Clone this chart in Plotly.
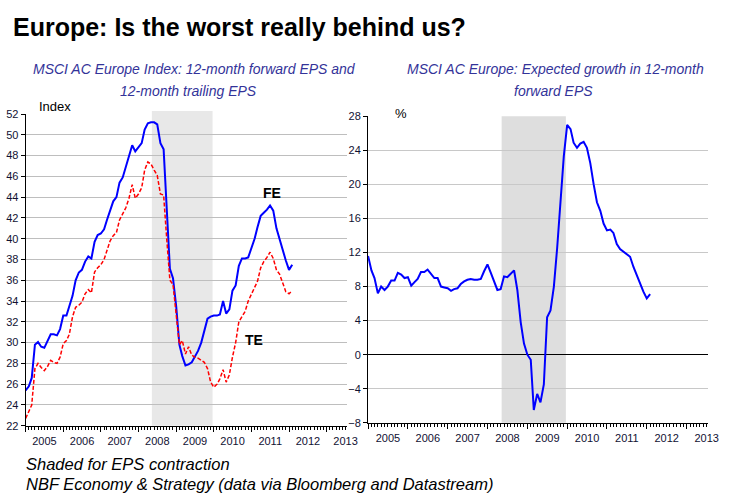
import plotly.graph_objects as go
import pandas as pd

# ---- data (monthly, Jan 2005 - Feb 2012) ----
months = pd.date_range("2005-01-01", periods=86, freq="MS")

fe_eps = [25.4, 25.8, 26.6, 29.8, 30.05, 29.6, 29.5, 30.2, 30.8, 30.8,
          30.7, 31.3, 32.6, 32.6, 33.4, 34.5, 36.0, 36.75, 37.0, 37.8,
          38.3, 38.1, 39.7, 40.35, 40.5, 40.9, 41.8, 42.7, 43.6, 44.0,
          45.4, 45.9, 47.0, 47.8, 49.0, 48.4, 48.8, 49.2, 50.5, 51.1,
          51.2, 51.2, 51.0, 49.2, 48.6, 43.5, 37.1, 36.2, 33.5, 29.8,
          28.7, 27.8, 27.9, 28.1, 28.7, 29.2, 30.0, 31.2, 32.3, 32.5,
          32.6, 32.6, 32.7, 34.0, 32.8, 33.2, 35.0, 35.5, 37.4, 38.1,
          38.1, 38.2, 39.1, 40.0, 41.1, 42.2, 42.5, 42.8, 43.2, 42.7,
          41.0, 39.9, 39.0, 37.9, 37.0, 37.5]

te_eps = [22.7, 23.3, 24.0, 27.5, 28.0, 27.6, 27.3, 27.7, 28.3, 28.1,
          28.0, 28.6, 29.9, 30.2, 30.8, 32.5, 33.4, 33.6, 33.9, 34.7,
          35.1, 34.8, 36.8, 37.2, 37.5, 38.0, 38.8, 39.8, 40.3, 40.6,
          41.8, 42.4, 43.0, 43.9, 45.2, 43.9, 44.3, 44.9, 46.6, 47.4,
          47.2, 46.6, 46.1, 44.3, 44.2, 40.0, 36.0, 35.6, 33.0, 29.8,
          30.2, 28.9, 29.6, 28.8, 28.6, 28.5, 28.3, 28.1, 27.5, 26.2,
          25.7, 26.0, 26.5, 27.4, 26.2, 26.9, 28.6, 30.0, 32.0, 32.5,
          33.0, 34.0, 34.6, 35.2, 35.9, 37.2, 37.8, 38.2, 38.7, 38.1,
          37.0, 36.6, 35.7, 34.9, 34.7, 35.0]

growth = [11.6, 9.9, 9.0, 7.2, 8.0, 7.6, 8.0, 8.7, 8.7, 9.6,
          9.4, 9.0, 9.1, 8.1, 8.5, 8.9, 9.7, 9.7, 10.0, 9.5,
          9.0, 9.0, 8.0, 7.9, 7.8, 7.5, 7.7, 7.8, 8.3, 8.6,
          8.8, 8.9, 8.8, 8.8, 8.9, 9.8, 10.6, 9.6, 8.6, 7.6,
          7.7, 9.2, 9.1, 9.5, 9.9, 7.6, 3.8, 1.3, 0.0, -0.6,
          -6.5, -4.6, -5.6, -3.5, 4.4, 5.2, 8.0, 12.5, 17.5, 23.3,
          27.0, 26.5, 24.9, 24.3, 24.8, 25.0, 24.3, 22.5, 20.0, 17.9,
          16.9, 15.4, 14.6, 14.7, 14.3, 13.0, 12.4, 12.1, 11.8, 11.5,
          10.3, 9.3, 8.2, 7.4, 6.6, 7.1]

shade_start = "2008-05-10"
shade_end = "2009-12-20"
x_range = ["2005-01-01", "2013-07-20"]

W, H = 755, 502
def px(x):
    return x / W
def py(y):
    return 1 - y / H

TICKFONT = dict(family="Liberation Sans, Arial, sans-serif", size=11, color="#111133")

fig = go.Figure()
fig.add_trace(go.Scatter(x=months, y=fe_eps, mode="lines", name="FE",
                         line=dict(color="#0000FF", width=2), xaxis="x", yaxis="y",
                         showlegend=False))
fig.add_trace(go.Scatter(x=months, y=te_eps, mode="lines", name="TE",
                         line=dict(color="#FF0000", width=1.5, dash="4px,2px"),
                         xaxis="x", yaxis="y", showlegend=False))
fig.add_trace(go.Scatter(x=months, y=growth, mode="lines", name="Growth",
                         line=dict(color="#0000FF", width=2), xaxis="x2", yaxis="y2",
                         showlegend=False))

def xaxis_cfg(domain, anchor):
    return dict(domain=domain, anchor=anchor, type="date", range=x_range,
                tick0="2005-01-01", dtick="M12", ticklabelmode="period",
                tickformat="%Y", ticks="outside", ticklen=5, tickcolor="black",
                showline=True, linecolor="black", linewidth=1, showgrid=False,
                zeroline=False, tickfont=TICKFONT,
                minor=dict(ticks="outside", ticklen=3, dtick="M1", tick0="2005-01-01",
                           tickcolor="black", showgrid=False))

fig.update_layout(
    width=W, height=H, margin=dict(l=0, r=0, t=0, b=0),
    paper_bgcolor="white", plot_bgcolor="white",
    xaxis=xaxis_cfg([px(26), px(352)], "y"),
    yaxis=dict(domain=[py(430), py(110.7)], anchor="x", range=[22, 52], dtick=2,
               tick0=22, ticks="outside", ticklen=4, tickcolor="black",
               showline=True, linecolor="black", linewidth=1,
               showgrid=True, gridcolor="#BEBEBE", gridwidth=1, zeroline=False,
               tickfont=TICKFONT),
    xaxis2=xaxis_cfg([px(373), px(718)], "y2"),
    yaxis2=dict(domain=[py(427), py(113)], anchor="x2", range=[-8, 28], dtick=4,
                tick0=-8, ticks="outside", ticklen=4, tickcolor="black",
                showline=True, linecolor="black", linewidth=1,
                showgrid=True, gridcolor="#C8C8C8", gridwidth=1,
                zeroline=True, zerolinecolor="black", zerolinewidth=1.2,
                tickfont=TICKFONT),
)

fig.add_shape(type="rect", xref="x", yref="y domain", x0=shade_start, x1=shade_end,
              y0=0, y1=1.01, fillcolor="#E8E8E8", line=dict(width=0), layer="below")
fig.add_shape(type="rect", xref="x2", yref="y2 domain", x0=shade_start, x1=shade_end,
              y0=0, y1=1, fillcolor="#DEDEDE", line=dict(width=0), layer="below")

ann = []
ann.append(dict(text="<b>Europe: Is the worst really behind us?</b>", x=px(11), y=py(22),
                xanchor="left", yanchor="middle",
                font=dict(family="Liberation Sans, Arial, sans-serif", size=25, color="black")))
SUBFONT = dict(family="Liberation Sans, Arial, sans-serif", size=14, color="#333399")
ann.append(dict(text="<i>MSCI AC Europe Index: 12-month forward EPS and</i>",
                x=px(197), y=py(65), xanchor="center", yanchor="middle", font=SUBFONT))
ann.append(dict(text="<i>12-month trailing EPS</i>",
                x=px(191), y=py(87), xanchor="center", yanchor="middle", font=SUBFONT))
ann.append(dict(text="<i>MSCI AC Europe: Expected growth in 12-month</i>",
                x=px(563), y=py(65), xanchor="center", yanchor="middle", font=SUBFONT))
ann.append(dict(text="<i>forward EPS</i>",
                x=px(561), y=py(87), xanchor="center", yanchor="middle", font=SUBFONT))
ann.append(dict(text="Index", x=px(37), y=py(103), xanchor="left", yanchor="middle",
                font=dict(family="Liberation Sans, Arial, sans-serif", size=13, color="black")))
ann.append(dict(text="%", x=px(398), y=py(110), xanchor="left", yanchor="middle",
                font=dict(family="Liberation Sans, Arial, sans-serif", size=13, color="black")))
ann.append(dict(text="<b>FE</b>", x=px(276), y=py(192), xanchor="center", yanchor="middle",
                font=dict(family="Liberation Sans, Arial, sans-serif", size=14, color="black")))
ann.append(dict(text="<b>TE</b>", x=px(257), y=py(342), xanchor="center", yanchor="middle",
                font=dict(family="Liberation Sans, Arial, sans-serif", size=14, color="black")))
FOOT = dict(family="Liberation Sans, Arial, sans-serif", size=16.5, color="black")
ann.append(dict(text="<i>Shaded for EPS contraction</i>", x=px(24), y=py(469),
                xanchor="left", yanchor="middle", font=FOOT))
ann.append(dict(text="<i>NBF Economy & Strategy (data via Bloomberg and Datastream)</i>",
                x=px(24), y=py(490), xanchor="left", yanchor="middle", font=FOOT))
for a in ann:
    a.update(xref="paper", yref="paper", showarrow=False)
fig.update_layout(annotations=ann)

fig.write_html("out.html")
